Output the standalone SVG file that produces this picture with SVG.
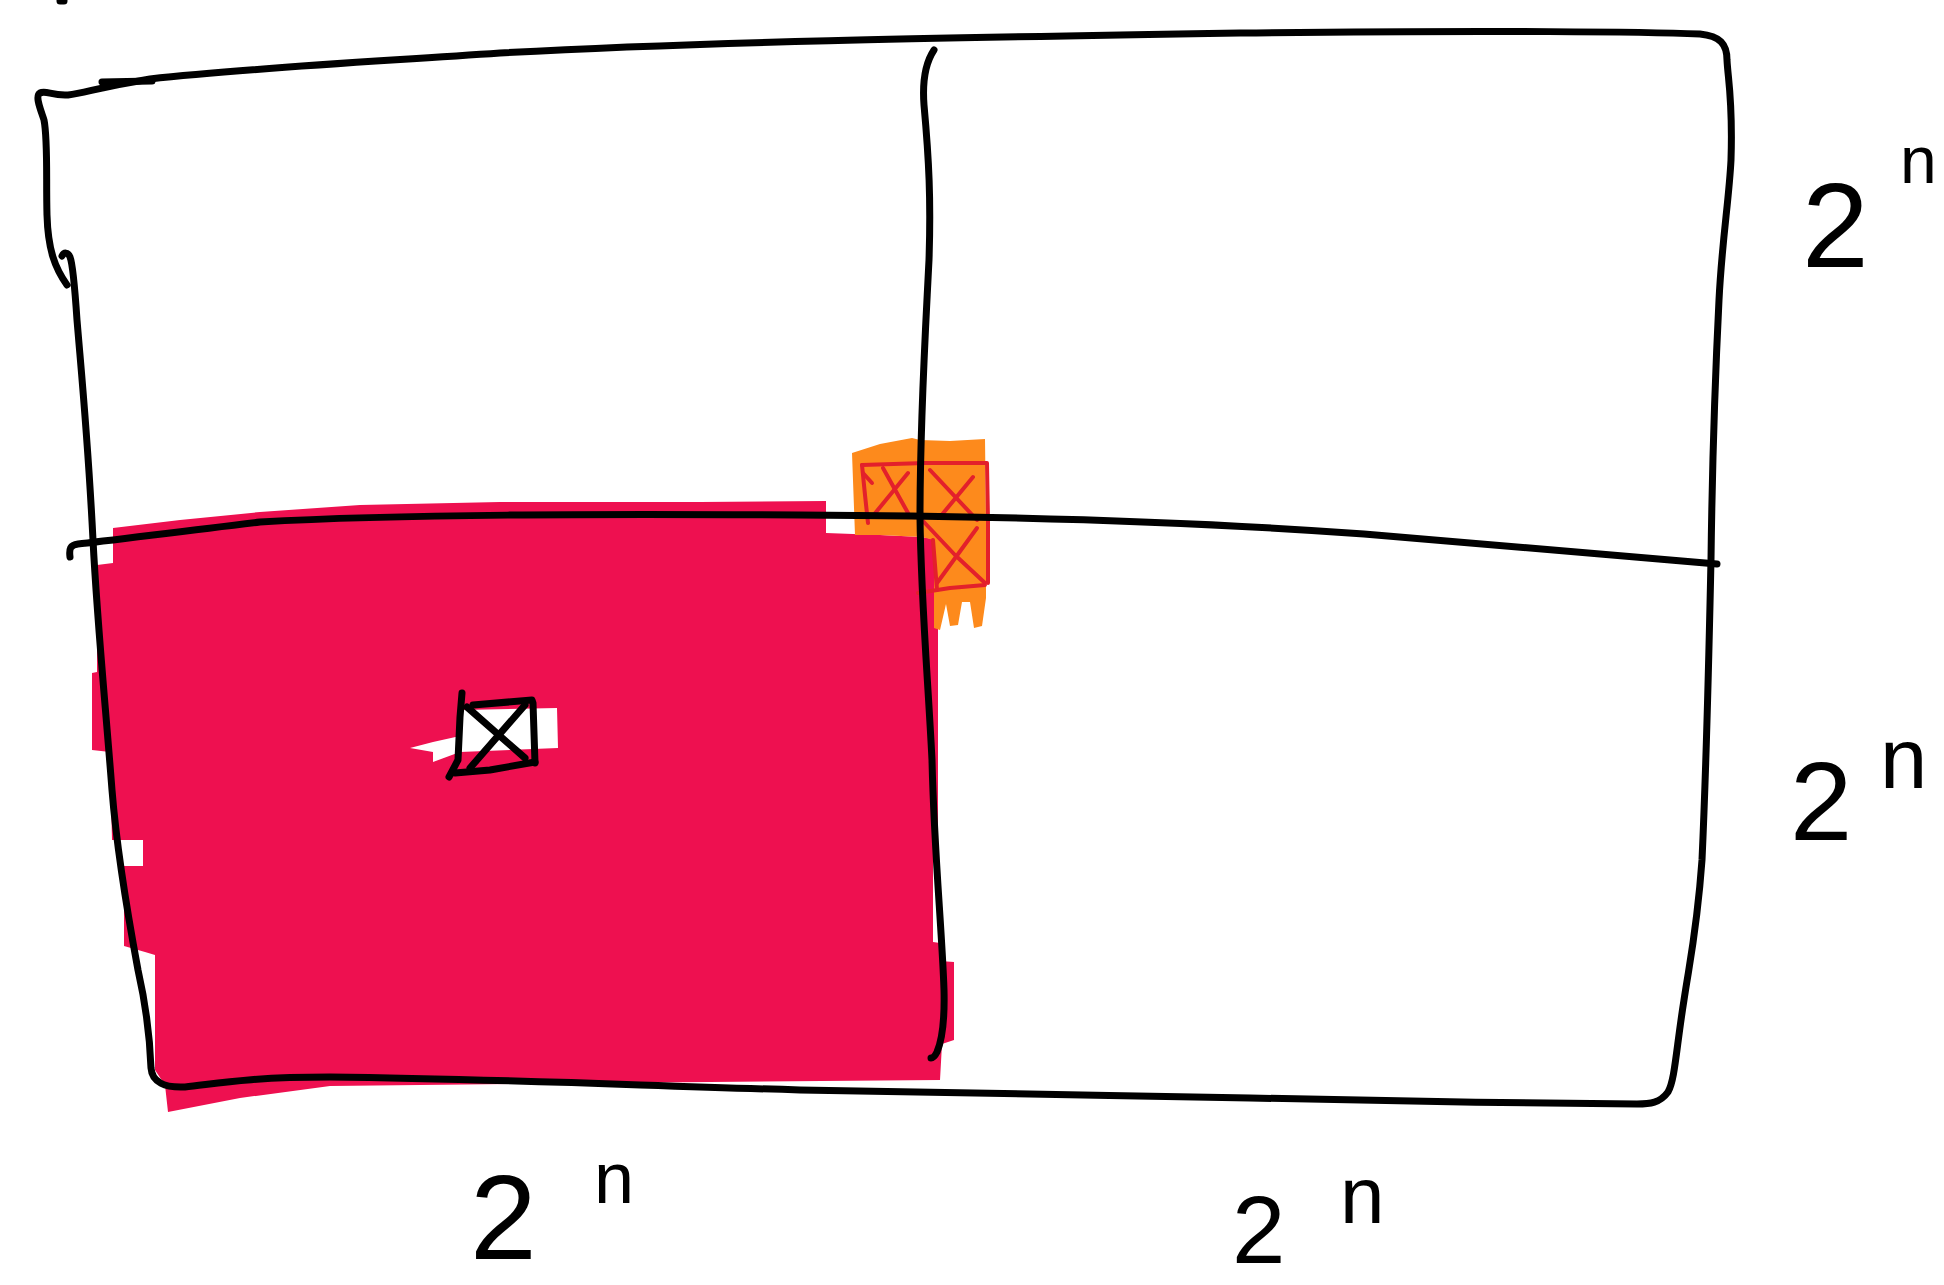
<svg xmlns="http://www.w3.org/2000/svg" width="1944" height="1285" viewBox="0 0 1944 1285">
<style>
.ink{fill:none;stroke:#000;stroke-width:7;stroke-linecap:round;stroke-linejoin:round}
.pen{fill:none;stroke:#E3202B;stroke-width:4;stroke-linecap:round;stroke-linejoin:round}
.lbl{font-family:"Liberation Sans",Arial,sans-serif;fill:#000}
</style>
<rect width="1944" height="1285" fill="#fff"/>
<g id="red-fill">
<path fill="#EE1050" d="M113,528 L180,520 L260,512 L360,505 L500,502 L700,502 L826,501 L826,533 L880,535 L922,537 L938,540 L938,860 L933,860 L933,942 L940,943 L940,961 L954,962 L954,1040 L942,1044 L940,1080 L600,1083 L330,1086 L240,1098 L168,1112 L165,1085 L155,1070 L155,955 L145,952 L124,946 L124,866 L143,866 L143,840 L112,840 L110,752 L92,750 L92,673 L97,672 L97,565 L113,563 Z"/>
</g>
<g id="orange-fill">
<path fill="#FD8A1C" d="M852,453 L880,444 L912,438 L920,440 L950,441 L985,439 L986,520 L986,598 L982,626 L974,628 L970,602 L962,602 L958,625 L950,626 L946,604 L940,630 L934,628 L934,540 L922,537 L880,535 L855,535 Z"/>
</g>
<g id="red-marks">
<path class="pen" d="M862,465 L925,463 L987,463 L988,520 L988,583"/>
<path class="pen" d="M862,465 L865,495 L868,523"/>
<path class="pen" d="M863,473 L872,483"/>
<path class="pen" d="M883,468 L908,513"/>
<path class="pen" d="M872,517 L908,473"/>
<path class="pen" d="M930,470 L977,520"/>
<path class="pen" d="M940,517 L973,477"/>
<path class="pen" d="M922,520 L955,555 L985,583"/>
<path class="pen" d="M937,583 L977,528"/>
<path class="pen" d="M933,540 L937,590"/>
<path class="pen" d="M918,593 L950,588 L985,585"/>
</g>
<g id="small-cell">
<path fill="#fff" d="M410,748 L433,742 L460,736 L462,710 L557,708 L558,748 L460,752 L433,762 L433,752 Z"/>
<path class="ink" d="M462,693 L460,717 L458,760 L449,777"/>
<path class="ink" d="M473,705 L532,700 L533,703 L535,763"/>
<path class="ink" d="M455,773 L490,770 L535,762"/>
<path class="ink" d="M467,707 L525,758"/>
<path class="ink" d="M470,768 L525,705"/>
</g>
<g id="grid">
<path class="ink" d="M67,285 C55,268 48,250 47,215 C46,180 48,140 44,120 C40,108 35,96 40,93 C46,90 52,96 68,95 C85,93 100,87 150,79 C250,68 370,62 500,53 C700,42 930,38 1240,33 C1500,30 1650,32 1700,34 C1720,36 1727,44 1727,60 C1728,80 1733,100 1731,160 C1729,200 1722,240 1719,300 C1714,400 1712,480 1711,560 C1709,650 1707,750 1702,860 C1697,930 1690,960 1684,1000 C1676,1050 1675,1080 1668,1092 C1660,1103 1650,1104 1637,1104 C1500,1103 1400,1101 1250,1098 C1100,1095 992,1094 800,1090 C600,1084 496,1079 330,1077 C240,1077 210,1085 185,1087 C165,1088 152,1082 151,1068 C150,1040 147,1010 138,970 C125,900 116,840 112,790 C105,700 97,620 93,540 C88,440 82,380 77,320 C75,290 72,262 70,257 C68,252 64,252 62,256"/>
<path class="ink" d="M102,82 L152,81"/>
<path class="ink" d="M934,50 C926,62 922,78 924,105 C929,160 931,200 929,260 C925,340 920,420 920,517 C921,600 928,680 932,760 C934,850 942,930 944,990 C945,1030 940,1045 937,1052 C935,1056 933,1058 931,1058"/>
<path class="ink" d="M70,557 C69,549 70,545 78,544 C100,542 160,534 260,522 C400,514 600,514 800,515 C1000,516 1200,522 1364,534 C1500,545 1620,556 1717,564"/>
<path class="ink" d="M60,1 L64,1"/>
</g>
<g id="labels">
<text class="lbl" x="1802" y="267" font-size="120">2</text>
<text class="lbl" x="1900" y="183" font-size="66">n</text>
<text class="lbl" x="1790" y="840" font-size="112">2</text>
<text class="lbl" x="1880" y="788" font-size="85">n</text>
<text class="lbl" x="470" y="1259" font-size="120">2</text>
<text class="lbl" x="594" y="1203" font-size="72">n</text>
<text class="lbl" x="1232" y="1263" font-size="96">2</text>
<text class="lbl" x="1340" y="1223" font-size="80">n</text>
</g>
</svg>
